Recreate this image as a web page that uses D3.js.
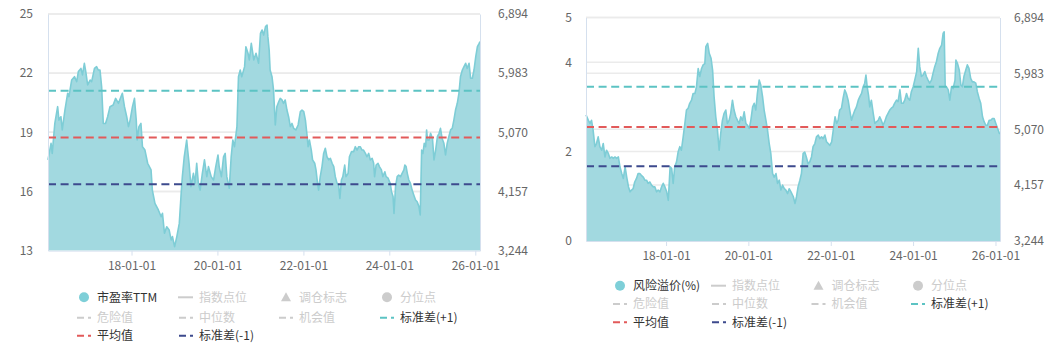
<!DOCTYPE html>
<html><head><meta charset="utf-8">
<script src="https://cdn.jsdelivr.net/npm/d3@7"></script>
<style>
html,body{margin:0;padding:0;background:#fff;}
svg{display:block;font-family:"Noto Sans CJK SC","Noto Sans",sans-serif;}
</style></head><body>
<svg id="c" width="1057" height="358"></svg>
<script>
// ---------------- DATA ----------------
const peDates = ["2016-01-22","2016-02-17","2016-02-27","2016-03-20","2016-04-13","2016-04-24","2016-05-11","2016-05-22","2016-06-14","2016-07-07","2016-07-18","2016-08-10","2016-09-03","2016-09-22","2016-10-06","2016-10-28","2016-11-10","2016-11-26","2016-12-08","2016-12-24",
"2017-01-14","2017-01-27","2017-02-20","2017-03-10","2017-03-24","2017-04-08","2017-04-22","2017-05-06","2017-05-25","2017-06-12","2017-07-02","2017-07-29","2017-08-19","2017-09-12","2017-10-04","2017-10-15","2017-11-02","2017-11-21","2017-12-06","2017-12-20",
"2018-01-09","2018-01-26","2018-02-10","2018-02-18","2018-03-05","2018-03-22","2018-04-04","2018-04-25","2018-05-18","2018-06-16","2018-06-27","2018-07-19","2018-08-17","2018-09-10","2018-09-21","2018-10-08","2018-10-27","2018-11-17","2018-12-04","2018-12-15",
"2019-01-02","2019-01-21","2019-02-11","2019-02-27","2019-03-09","2019-03-25","2019-04-15","2019-04-23","2019-05-05","2019-05-21","2019-06-11","2019-06-25","2019-07-09","2019-07-23","2019-08-07","2019-08-26","2019-09-13","2019-10-03","2019-10-17","2019-11-09","2019-11-29","2019-12-18",
"2020-01-06","2020-01-16","2020-02-04","2020-02-22","2020-03-07","2020-03-21","2020-04-11","2020-04-27","2020-05-11","2020-05-25","2020-06-15","2020-06-28","2020-07-13","2020-07-26","2020-08-19","2020-08-30","2020-09-17","2020-09-28","2020-10-15","2020-11-05","2020-11-24","2020-12-16",
"2021-01-01","2021-01-15","2021-01-28","2021-02-13","2021-02-26","2021-03-05","2021-03-16","2021-03-24","2021-04-09","2021-04-22","2021-05-07","2021-05-20","2021-06-05","2021-06-18","2021-07-03","2021-07-16","2021-07-30","2021-08-14","2021-08-28","2021-09-12","2021-09-26","2021-10-10","2021-10-29","2021-11-17","2021-12-06","2021-12-20",
"2022-01-04","2022-01-18","2022-02-02","2022-02-10","2022-02-21","2022-03-09","2022-03-20","2022-04-07","2022-04-18","2022-04-28","2022-05-10","2022-05-24","2022-06-08","2022-06-22","2022-07-06","2022-07-20","2022-08-04","2022-08-18","2022-09-02","2022-09-16","2022-09-29","2022-10-14","2022-10-27","2022-11-07","2022-11-20","2022-12-02","2022-12-18","2022-12-29",
"2023-01-16","2023-01-27","2023-02-14","2023-03-04","2023-03-18","2023-04-02","2023-04-16","2023-04-29","2023-05-14","2023-05-27","2023-06-12","2023-06-25","2023-07-10","2023-07-23","2023-08-08","2023-08-21","2023-08-29","2023-09-11","2023-09-27","2023-10-09","2023-10-26","2023-11-07","2023-11-24","2023-12-05","2023-12-22",
"2024-01-09","2024-01-20","2024-02-02","2024-02-10","2024-02-23","2024-03-08","2024-03-21","2024-04-06","2024-04-19","2024-05-04","2024-05-12","2024-05-23","2024-06-02","2024-06-15","2024-06-29","2024-07-13","2024-07-27","2024-08-11","2024-08-25","2024-09-09","2024-09-20","2024-10-02","2024-10-13","2024-10-24","2024-11-05","2024-11-13","2024-11-21","2024-12-04","2024-12-17",
"2025-01-02","2025-01-15","2025-01-29","2025-02-13","2025-02-27","2025-03-11","2025-03-25","2025-04-09","2025-04-23","2025-05-07","2025-05-21","2025-06-05","2025-06-19","2025-07-03","2025-07-17","2025-08-01","2025-08-15","2025-08-28","2025-09-13","2025-09-27","2025-10-11","2025-10-24","2025-11-09","2025-11-22","2025-12-07","2025-12-21",
"2026-01-05","2026-01-19","2026-02-03","2026-02-10"];
const peValues = [17.6,18.44,17.93,19.45,20.3,19.62,19.79,19.12,20.13,20.98,20.81,21.65,21.82,21.57,22.08,22.24,21.91,22.5,22.08,21.4,
21.65,21.57,22.24,22.33,22.16,22.16,21.31,19.45,19.45,19.79,20.3,20.38,20.72,20.47,20.81,20.98,20.3,19.79,19.29,19.62,
20.3,20.72,19.62,18.61,19.29,19.45,18.27,18.1,17.43,17.09,16.07,15.4,15.06,14.72,14.89,13.88,14.21,14.04,13.54,13.71,
13.2,13.71,14.38,15.9,16.75,17.76,18.61,18.1,17.43,16.24,16.92,16.41,17.43,16.41,16.07,16.92,17.6,16.75,17.26,16.75,16.58,17.26,
17.85,17.26,16.75,17.76,17.93,16.75,16.16,17.76,18.61,18.27,19.29,21.82,22.16,21.82,22.33,23.34,23.01,22.67,23.51,22.67,23.01,22.5,
24.02,24.19,23.93,24.36,24.44,23.85,23.17,22.16,21.82,21.15,19.37,20.3,20.55,20.72,20.64,20.47,20.64,20.13,19.79,19.29,19.45,19.2,19.12,19.37,20.05,20.13,
20.05,19.62,18.78,18.27,18.61,18.1,17.6,17.43,17.09,16.58,16.07,16.75,17.26,17.93,18.19,17.76,17.6,17.68,17.43,17.26,16.75,16.41,16.33,15.65,16.58,16.75,17.34,16.75,
16.92,17.76,18.02,18.02,18.27,18.1,18.27,18.27,18.1,18.1,17.93,17.76,17.93,17.6,17.68,17.43,16.75,17.34,17.43,17.26,17.09,16.75,17.0,16.75,16.67,
16.41,15.99,15.74,14.89,16.24,16.75,16.83,16.75,16.92,17.09,17.34,17.26,16.92,16.58,16.41,16.07,15.82,15.57,15.48,15.23,14.81,18.1,17.93,18.44,18.27,19.12,18.61,18.61,18.95,
18.69,17.6,18.1,18.78,18.95,19.2,18.69,18.44,17.85,18.44,18.78,19.12,19.2,19.62,20.13,20.47,20.98,21.82,22.16,22.33,22.5,22.24,22.5,21.74,21.74,22.16,
22.84,23.34,23.51,23.6];

const erpDates = ["2016-01-22","2016-02-12","2016-02-26","2016-03-11","2016-03-25","2016-04-10","2016-04-24","2016-05-09","2016-05-24","2016-06-09","2016-06-23","2016-07-08","2016-07-22","2016-08-07","2016-08-21","2016-09-06","2016-09-20","2016-10-05","2016-10-19","2016-11-04","2016-11-18","2016-12-04","2016-12-18",
"2017-01-03","2017-01-17","2017-02-02","2017-02-16","2017-03-01","2017-03-15","2017-03-29","2017-04-14","2017-04-28","2017-05-13","2017-05-27","2017-06-13","2017-06-27","2017-07-12","2017-07-26","2017-08-11","2017-08-25","2017-09-10","2017-09-24","2017-10-09","2017-10-23","2017-11-08","2017-11-22","2017-12-07","2017-12-22",
"2018-01-07","2018-01-21","2018-02-06","2018-02-20","2018-03-05","2018-03-19","2018-04-04","2018-04-18","2018-05-03","2018-05-17","2018-06-02","2018-06-17","2018-07-01","2018-07-16","2018-07-30","2018-08-15","2018-08-29","2018-09-14","2018-09-28","2018-10-13","2018-10-27","2018-11-12","2018-11-26","2018-12-11","2018-12-20",
"2019-01-05","2019-01-19","2019-02-04","2019-02-18","2019-03-03","2019-03-18","2019-04-02","2019-04-17","2019-05-01","2019-05-16","2019-05-30","2019-06-15","2019-06-29","2019-07-14","2019-07-28","2019-08-13","2019-08-27","2019-09-12","2019-09-27","2019-10-11","2019-10-26","2019-11-10","2019-11-25","2019-12-10","2019-12-24",
"2020-01-09","2020-01-23","2020-02-08","2020-02-22","2020-03-07","2020-03-21","2020-04-06","2020-04-20","2020-05-06","2020-05-20","2020-06-05","2020-06-19","2020-07-04","2020-07-18","2020-08-03","2020-08-17","2020-09-02","2020-09-16","2020-10-01","2020-10-16","2020-10-30","2020-11-15","2020-11-29","2020-12-14","2020-12-28",
"2021-01-13","2021-02-03","2021-02-18","2021-03-03","2021-03-17","2021-04-02","2021-04-16","2021-05-01","2021-05-15","2021-05-29","2021-06-14","2021-06-29","2021-07-14","2021-07-28","2021-08-13","2021-08-27","2021-09-12","2021-09-26","2021-10-11","2021-10-25","2021-11-10","2021-11-24","2021-12-09","2021-12-24",
"2022-01-09","2022-01-23","2022-02-08","2022-02-22","2022-03-07","2022-03-21","2022-04-06","2022-04-20","2022-05-05","2022-05-19","2022-06-04","2022-06-18","2022-07-04","2022-07-18","2022-08-03","2022-08-17","2022-09-02","2022-09-16","2022-10-01","2022-10-15","2022-10-29","2022-11-09","2022-11-20","2022-12-02","2022-12-13","2022-12-27",
"2023-01-13","2023-01-27","2023-02-12","2023-02-26","2023-03-11","2023-03-25","2023-04-10","2023-04-24","2023-05-09","2023-05-23","2023-06-08","2023-06-22","2023-07-07","2023-07-21","2023-08-07","2023-08-21","2023-09-06","2023-09-20","2023-10-05","2023-10-19","2023-11-04","2023-11-18","2023-12-03","2023-12-17",
"2024-01-02","2024-01-16","2024-02-02","2024-02-16","2024-02-29","2024-03-15","2024-03-29","2024-04-14","2024-04-28","2024-05-13","2024-05-27","2024-06-12","2024-06-26","2024-07-11","2024-07-26","2024-08-11","2024-08-25","2024-09-10","2024-09-24","2024-10-03","2024-10-12","2024-10-23","2024-11-08","2024-11-22","2024-12-07","2024-12-21",
"2025-01-07","2025-01-15","2025-01-29","2025-02-14","2025-02-28","2025-03-13","2025-03-27","2025-04-12","2025-04-26","2025-05-11","2025-05-26","2025-06-10","2025-06-24","2025-07-10","2025-07-24","2025-08-09","2025-08-23","2025-09-08","2025-09-22","2025-10-07","2025-10-21","2025-11-06","2025-11-20","2025-12-05","2025-12-20",
"2026-01-04","2026-01-19","2026-02-04","2026-02-10"];
const erpValues = [2.82,2.70,2.63,2.70,2.48,2.11,2.18,2.33,2.11,2.03,2.18,1.88,2.03,1.96,1.85,1.88,1.85,1.88,1.85,1.88,1.66,1.51,1.40,
1.66,1.43,1.21,1.10,1.14,1.17,1.32,1.40,1.51,1.51,1.47,1.43,1.36,1.36,1.29,1.32,1.25,1.21,1.21,1.10,1.14,1.10,1.21,1.29,1.21,
1.10,0.91,1.66,1.62,1.29,1.66,1.77,1.99,2.11,2.03,2.33,2.63,2.93,2.97,3.08,3.15,3.30,3.30,3.45,3.86,3.68,3.86,3.94,3.97,4.35,
4.42,4.20,4.09,3.82,3.23,2.78,2.48,2.03,2.41,2.70,2.85,2.93,2.63,2.70,2.85,3.15,2.93,2.78,2.70,2.63,2.78,2.70,2.89,2.63,2.59,
2.52,2.70,3.00,3.08,2.93,3.30,3.60,3.49,3.23,2.93,2.70,2.48,2.18,1.96,1.51,1.43,1.51,1.29,1.36,1.14,1.25,1.17,1.14,1.06,1.17,
1.10,0.99,0.84,0.99,1.21,1.36,1.51,1.96,1.99,1.88,1.73,1.77,1.88,2.11,2.18,2.33,2.37,2.29,2.33,2.29,2.37,2.22,2.18,2.14,
2.22,2.48,2.78,2.63,2.70,2.93,2.97,3.19,3.38,3.30,3.15,2.93,2.70,2.82,2.93,3.00,3.15,3.23,3.30,3.45,3.53,3.71,3.45,3.26,3.00,3.15,
2.85,2.63,2.67,2.70,2.78,2.70,2.59,2.67,2.78,2.85,2.93,2.97,3.00,3.08,3.15,3.12,3.38,3.08,3.08,3.15,3.30,3.19,3.15,3.34,
3.45,3.60,3.79,4.31,3.90,3.68,3.71,3.79,3.68,3.60,3.53,3.60,3.75,3.90,4.01,4.20,4.31,4.38,4.65,4.68,3.45,3.45,3.38,3.15,3.45,3.41,
3.60,4.05,3.97,3.82,3.49,3.45,3.68,3.82,3.94,3.86,3.64,3.56,3.56,3.53,3.34,3.19,3.08,2.78,2.67,2.59,2.59,2.70,2.70,2.74,2.74,
2.63,2.52,2.41,2.40];

const peTicks = [13, 16, 19, 22, 25];
const erpTicks = [0, 2, 4, 5];
const indexTicks = [3244, 4157, 5070, 5983, 6894];
const dateTicks = ["2018-01-01", "2020-01-01", "2022-01-01", "2024-01-01", "2026-01-01"];
const refNames = ["标准差(+1)", "平均值", "标准差(-1)"];
const peRefValues = [21.11, 18.73, 16.37];
const erpRefValues = [3.45, 2.55, 1.67];
const peLegendNames = ["市盈率TTM", "指数点位", "调仓标志", "分位点", "危险值", "中位数", "机会值", "标准差(+1)", "平均值", "标准差(-1)"];
const erpLegendNames = ["风险溢价(%)", "指数点位", "调仓标志", "分位点", "危险值", "中位数", "机会值", "标准差(+1)", "平均值", "标准差(-1)"];

// ---------------- STYLE ----------------
const AREA_FILL = "#a2d9e0", LINE_COL = "#7ecdd6", SERIES_COL = "#7ecfd8";
const REF_COLORS = ["#5cc3c3", "#e25a5a", "#3d4a8d"];
const GRID = "#ebebeb", AXISLINE = "#d5e0ee", LABEL = "#666666";
const INACTIVE = "#cccccc", ACTIVE = "#333333";

const parse = d3.timeParse("%Y-%m-%d");
const fmtDate = d3.timeFormat("%y-%m-%d");
const fmtIdx = d3.format(",");
const fmtInt = d3.format("d");
const svg = d3.select("#c");

function drawChart(cfg) {
  const dates = cfg.dates.map(parse);
  const data = dates.map((d, i) => ({ d, v: cfg.values[i] }));
  const x = d3.scaleTime().domain(d3.extent(dates)).range([cfg.left, cfg.right]);
  const y = d3.scaleLinear().domain(cfg.yDomain).range([cfg.bottom, cfg.top]);
  const y2 = d3.scaleLinear().domain(d3.extent(indexTicks)).range([cfg.bottom, cfg.top]);
  const g = svg.append("g");

  // grid lines (both axes)
  g.append("g").selectAll("line").data(cfg.yTicks.filter(t => t !== cfg.yDomain[0]))
    .join("line").attr("x1", cfg.left).attr("x2", cfg.right)
    .attr("y1", d => y(d)).attr("y2", d => y(d))
    .attr("stroke", GRID).attr("stroke-width", 1.5);
  g.append("g").selectAll("line").data(indexTicks.slice(1))
    .join("line").attr("x1", cfg.left).attr("x2", cfg.right)
    .attr("y1", d => y2(d)).attr("y2", d => y2(d))
    .attr("stroke", GRID).attr("stroke-width", 1.5);

  // area + line
  const area = d3.area().x(p => x(p.d)).y0(cfg.bottom).y1(p => y(p.v));
  const line = d3.line().x(p => x(p.d)).y(p => y(p.v));
  g.append("path").datum(data).attr("d", area).attr("fill", AREA_FILL);
  g.append("path").datum(data).attr("d", line).attr("fill", "none")
    .attr("stroke", LINE_COL).attr("stroke-width", 1.6).attr("stroke-linejoin", "round");

  // reference lines
  g.append("g").selectAll("line").data(cfg.refValues).join("line")
    .attr("x1", cfg.left).attr("x2", cfg.right)
    .attr("y1", d => y(d)).attr("y2", d => y(d))
    .attr("stroke", (d, i) => REF_COLORS[i]).attr("stroke-width", 2)
    .attr("stroke-dasharray", "8,4.6");

  // axes
  const ax = g.append("g").attr("transform", `translate(0,${cfg.bottom})`)
    .call(d3.axisBottom(x).tickValues(dateTicks.map(parse)).tickFormat(fmtDate)
      .tickSize(5).tickSizeOuter(0).tickPadding(cfg.xPad));
  const ayl = g.append("g").attr("transform", `translate(${cfg.left},0)`)
    .call(d3.axisLeft(y).tickValues(cfg.yTicks).tickFormat(fmtInt).tickSize(0).tickSizeOuter(0).tickPadding(cfg.lPad));
  const ayr = g.append("g").attr("transform", `translate(${cfg.right},0)`)
    .call(d3.axisRight(y2).tickValues(indexTicks).tickFormat(fmtIdx).tickSize(0).tickSizeOuter(0).tickPadding(cfg.rPad));
  [ax, ayl, ayr].forEach(a => {
    a.select(".domain").attr("stroke", AXISLINE).attr("stroke-width", 1);
    a.selectAll(".tick line").attr("stroke", AXISLINE);
    a.selectAll("text").attr("fill", LABEL).attr("font-size", 12)
      .attr("font-family", '"Noto Sans CJK SC","Noto Sans",sans-serif');
  });

  // legend
  const lg = g.append("g").attr("font-size", 12);
  cfg.legendNames.forEach((name, i) => {
    const row = i < 4 ? 0 : (i < 8 ? 1 : 2);
    const col = i < 4 ? i : (i < 8 ? i - 4 : i - 8);
    const tx = cfg.legX[col], ty = cfg.legY[row];
    let active = false, col2 = INACTIVE;
    if (i === 0) { active = true; col2 = SERIES_COL; }
    if (i === 7) { active = true; col2 = REF_COLORS[0]; }
    if (i === 8) { active = true; col2 = REF_COLORS[1]; }
    if (i === 9) { active = true; col2 = REF_COLORS[2]; }
    if (row === 0) {
      if (col === 0 || col === 3) {
        lg.append("circle").attr("cx", tx - 13).attr("cy", ty).attr("r", 5).attr("fill", col2);
      } else if (col === 1) {
        lg.append("line").attr("x1", tx - 21).attr("x2", tx - 6).attr("y1", ty).attr("y2", ty)
          .attr("stroke", col2).attr("stroke-width", 2);
      } else {
        lg.append("path").attr("d", `M${tx - 13},${ty - 5}L${tx - 8},${ty + 4}L${tx - 18},${ty + 4}Z`).attr("fill", col2);
      }
    } else {
      lg.append("line").attr("x1", tx - 20).attr("x2", tx - 6).attr("y1", ty).attr("y2", ty)
        .attr("stroke", col2).attr("stroke-width", 2).attr("stroke-dasharray", "7,4");
    }
    lg.append("text").attr("x", tx).attr("y", ty).attr("dy", "0.35em")
      .attr("fill", active ? ACTIVE : INACTIVE).text(name);
  });
}

drawChart({
  dates: peDates, values: peValues, yDomain: [13, 25], yTicks: peTicks, refValues: peRefValues,
  left: 48, right: 480, top: 14, bottom: 250.6, lPad: 15, rPad: 18, xPad: 6,
  legendNames: peLegendNames, legX: [97, 199, 299, 400], legY: [297.3, 317.7, 335.7]
});
drawChart({
  dates: erpDates, values: erpValues, yDomain: [0, 5], yTicks: erpTicks, refValues: erpRefValues,
  left: 586, right: 1000, top: 17.5, bottom: 241, lPad: 14, rPad: 14, xPad: 5,
  legendNames: erpLegendNames, legX: [633, 732, 831.5, 931], legY: [285.7, 304, 322.3]
});
</script>
</body></html>
